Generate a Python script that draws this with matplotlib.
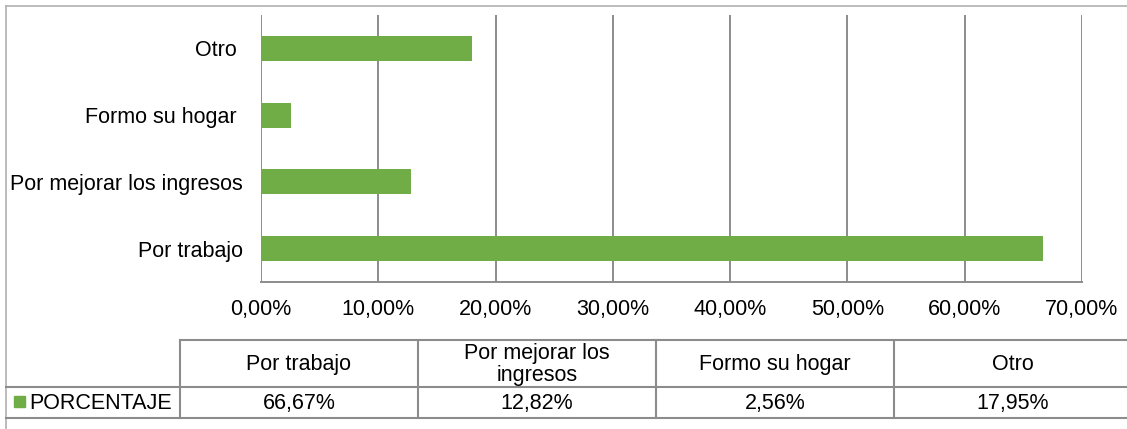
import matplotlib.pyplot as plt
from matplotlib.lines import Line2D
from matplotlib.patches import Rectangle

plt.rcParams['font.family'] = ['Liberation Sans', 'DejaVu Sans']

# datos
categorias = ["Por trabajo", "Por mejorar los ingresos", "Formo su hogar ", "Otro "]
cabeceras_tabla = ["Por trabajo", "Por mejorar los\ningresos", "Formo su hogar", "Otro"]
porcentajes = [66.67, 12.82, 2.56, 17.95]
ticks = [0, 10, 20, 30, 40, 50, 60, 70]
serie = "PORCENTAJE"

VERDE = "#70AD47"
GRIS = "#8c8c8c"
W, H = 1127, 429
FS = 15.5

fig = plt.figure(figsize=(W / 100, H / 100), dpi=100)

# capa en pixeles para marco y tabla
bg = fig.add_axes([0, 0, 1, 1])
bg.set_xlim(0, W)
bg.set_ylim(H, 0)
bg.axis("off")

# grafico de barras
x0, x1, y0, y1 = 261, 1082, 15, 282
ax = fig.add_axes([x0 / W, 1 - y1 / H, (x1 - x0) / W, (y1 - y0) / H])
ypos = range(len(categorias))
ax.barh(ypos, porcentajes, height=0.375, color=VERDE, zorder=3)
ax.set_xlim(0, 70)
ax.set_ylim(-0.5, len(categorias) - 0.5)
ax.set_xticks(ticks)
ax.set_xticklabels([f"{t:.2f}%".replace(".", ",") for t in ticks], fontsize=FS)
ax.set_yticks(list(ypos))
ax.set_yticklabels(categorias, fontsize=FS)
ax.tick_params(axis="y", length=0, pad=13)
ax.tick_params(axis="x", length=0, pad=12)
for t in ticks:
    ax.axvline(t, color=GRIS, lw=1.4, zorder=1)
for s in ["top", "right", "left"]:
    ax.spines[s].set_visible(False)
ax.spines["bottom"].set_color(GRIS)
ax.spines["bottom"].set_linewidth(1.4)
ax.patch.set_alpha(0)

# marco exterior
bg.add_line(Line2D([6, 6], [6, H], color="#b0b0b0", lw=1.2))
bg.add_line(Line2D([6, W], [6, 6], color="#b0b0b0", lw=1.2))

# tabla de datos
col_x = [180, 418, 656, 894, 1132]
r_top, r_mid, r_bot = 340, 387, 418
lw_t = 1.5
bg.add_line(Line2D([180, W], [r_top, r_top], color=GRIS, lw=lw_t))
bg.add_line(Line2D([6, W], [r_mid, r_mid], color=GRIS, lw=lw_t))
bg.add_line(Line2D([6, W], [r_bot, r_bot], color=GRIS, lw=lw_t))
for cx in col_x[:-1]:
    bg.add_line(Line2D([cx, cx], [r_top, r_bot], color=GRIS, lw=lw_t))

for i, (cab, val) in enumerate(zip(cabeceras_tabla, porcentajes)):
    cx = (col_x[i] + col_x[i + 1]) / 2
    bg.text(cx, (r_top + r_mid) / 2 + 1, cab, ha="center", va="center",
            fontsize=FS, linespacing=1.05)
    bg.text(cx, (r_mid + r_bot) / 2 + 1, f"{val:.2f}%".replace(".", ","),
            ha="center", va="center", fontsize=FS)

bg.add_patch(Rectangle((14, 396), 11, 11, color=VERDE))
bg.text(29, (r_mid + r_bot) / 2 + 1, serie, ha="left", va="center", fontsize=FS)

fig.savefig("out.png", dpi=100)
